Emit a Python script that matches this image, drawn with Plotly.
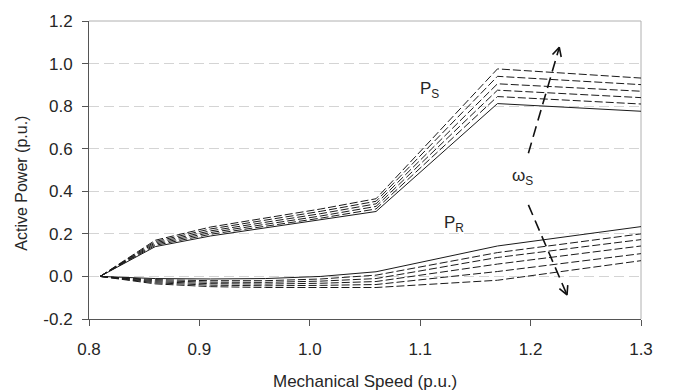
import math
import plotly.graph_objects as go

# ---------------- data ----------------
speed = [0.81, 0.86, 0.91, 0.96, 1.01, 1.06, 1.17, 1.30]

ps_1 = [0, 0.140, 0.190, 0.228, 0.264, 0.305, 0.812, 0.776]
ps_2 = [0, 0.146, 0.198, 0.237, 0.274, 0.317, 0.845, 0.810]
ps_3 = [0, 0.152, 0.206, 0.246, 0.284, 0.329, 0.875, 0.840]
ps_4 = [0, 0.158, 0.214, 0.256, 0.295, 0.341, 0.905, 0.870]
ps_5 = [0, 0.164, 0.223, 0.265, 0.306, 0.353, 0.940, 0.901]
ps_6 = [0, 0.170, 0.232, 0.275, 0.317, 0.365, 0.975, 0.932]

pr_1 = [0, -0.010, -0.012, -0.010, 0.000, 0.022, 0.143, 0.234]
pr_2 = [0, -0.015, -0.020, -0.020, -0.012, 0.006, 0.112, 0.200]
pr_3 = [0, -0.020, -0.027, -0.028, -0.022, -0.010, 0.089, 0.173]
pr_4 = [0, -0.025, -0.034, -0.036, -0.032, -0.024, 0.058, 0.143]
pr_5 = [0, -0.030, -0.041, -0.044, -0.042, -0.038, 0.023, 0.107]
pr_6 = [0, -0.035, -0.048, -0.052, -0.052, -0.052, -0.018, 0.074]

x_ticks = [0.8, 0.9, 1.0, 1.1, 1.2, 1.3]
x_ticklabels = ["0.8", "0.9", "1.0", "1.1", "1.2", "1.3"]
y_ticks = [-0.2, 0.0, 0.2, 0.4, 0.6, 0.8, 1.0, 1.2]
y_ticklabels = ["-0.2", "0.0", "0.2", "0.4", "0.6", "0.8", "1.0", "1.2"]

# arrows (tail, tip) in data coordinates
arrow_up = [(1.198, 0.579), (1.226, 1.076)]
arrow_down = [(1.198, 0.336), (1.233, -0.087)]

# ---------------- layout constants ----------------
W, H = 684, 392
ML, MR, MT, MB = 89, 43, 15, 73
PW, PH = W - ML - MR, H - MT - MB
XR = [0.8, 1.3]
YR = [-0.2, 1.2]
px_x = PW / (XR[1] - XR[0])
px_y = PH / (YR[1] - YR[0])

FONT = "Liberation Sans, Arial, sans-serif"
TXT = "#262626"
LINE = "#1a1a1a"

fig = go.Figure()

ps_all = [ps_1, ps_2, ps_3, ps_4, ps_5, ps_6]
pr_all = [pr_1, pr_2, pr_3, pr_4, pr_5, pr_6]
for group in (ps_all, pr_all):
    for i, ys in enumerate(group):
        fig.add_trace(go.Scatter(
            x=speed, y=ys, mode="lines",
            line=dict(color=LINE, width=1, dash="solid" if i == 0 else "8px,3px"),
            hoverinfo="skip", showlegend=False))


def arrow(tail, tip, L=10, ang=27):
    fig.add_trace(go.Scatter(
        x=[tail[0], tip[0]], y=[tail[1], tip[1]], mode="lines",
        line=dict(color="#111", width=1.6, dash="11px,6px"),
        hoverinfo="skip", showlegend=False))
    dx = (tip[0] - tail[0]) * px_x
    dy = (tip[1] - tail[1]) * px_y
    n = math.hypot(dx, dy)
    bx, by = -dx / n, -dy / n
    pts_x, pts_y = [], []
    for s in (1, -1):
        a = math.radians(ang) * s
        rx = bx * math.cos(a) - by * math.sin(a)
        ry = bx * math.sin(a) + by * math.cos(a)
        pts_x.append(tip[0] + L * rx / px_x)
        pts_y.append(tip[1] + L * ry / px_y)
    fig.add_trace(go.Scatter(
        x=[pts_x[0], tip[0], pts_x[1]], y=[pts_y[0], tip[1], pts_y[1]],
        mode="lines", line=dict(color="#111", width=1.6),
        hoverinfo="skip", showlegend=False))


arrow(*arrow_up)
arrow(*arrow_down)

label_font = dict(family=FONT, size=17, color=TXT)
fig.add_annotation(x=1.108, y=0.875, text="P<sub>S</sub>", showarrow=False,
                   font=label_font, xref="x", yref="y")
fig.add_annotation(x=1.131, y=0.245, text="P<sub>R</sub>", showarrow=False,
                   font=label_font, xref="x", yref="y")
fig.add_annotation(x=1.193, y=0.465, text="ω<sub>S</sub>", showarrow=False,
                   font=label_font, xref="x", yref="y")


def paper_xy(px, py):
    return (px - ML) / PW, (H - MB - py) / PH


# axis titles
tx, ty = paper_xy(365, 383)
fig.add_annotation(x=tx, y=ty, xref="paper", yref="paper",
                   text="Mechanical Speed (p.u.)", showarrow=False,
                   font=dict(family=FONT, size=17, color=TXT),
                   xanchor="center", yanchor="middle")
tx, ty = paper_xy(22, 181)
fig.add_annotation(x=tx, y=ty, xref="paper", yref="paper",
                   text="Active Power (p.u.)", showarrow=False, textangle=-90,
                   font=dict(family=FONT, size=16, color=TXT),
                   xanchor="center", yanchor="middle")

fig.update_layout(
    width=W, height=H,
    margin=dict(l=ML, r=MR, t=MT, b=MB, pad=0),
    paper_bgcolor="white", plot_bgcolor="white",
    showlegend=False,
    font=dict(family=FONT, size=17, color=TXT),
)
fig.update_xaxes(
    range=XR, tickvals=x_ticks, ticktext=x_ticklabels,
    showgrid=False, zeroline=False,
    showline=True, linecolor="#555", linewidth=1, mirror=False,
    ticks="outside", ticklen=6, tickcolor="#555",
    tickfont=dict(family=FONT, size=17, color=TXT),
    ticklabelstandoff=9,
)
fig.update_yaxes(
    range=YR, tickvals=y_ticks, ticktext=y_ticklabels,
    showgrid=True, gridcolor="#d4d4d4", gridwidth=1, griddash="10px,5px",
    zeroline=False,
    showline=True, linecolor="#555", linewidth=1,
    ticks="outside", ticklen=6, tickcolor="#555",
    tickfont=dict(family=FONT, size=17, color=TXT),
    ticklabelstandoff=6,
)
# plot-area border on top and right
fig.add_shape(type="line", xref="paper", yref="paper", x0=0, x1=1, y0=1, y1=1,
              line=dict(color="#b0b0b0", width=1), layer="below")
fig.add_shape(type="line", xref="paper", yref="paper", x0=1, x1=1, y0=0, y1=1,
              line=dict(color="#b0b0b0", width=1), layer="below")

fig.write_html("out.html")
